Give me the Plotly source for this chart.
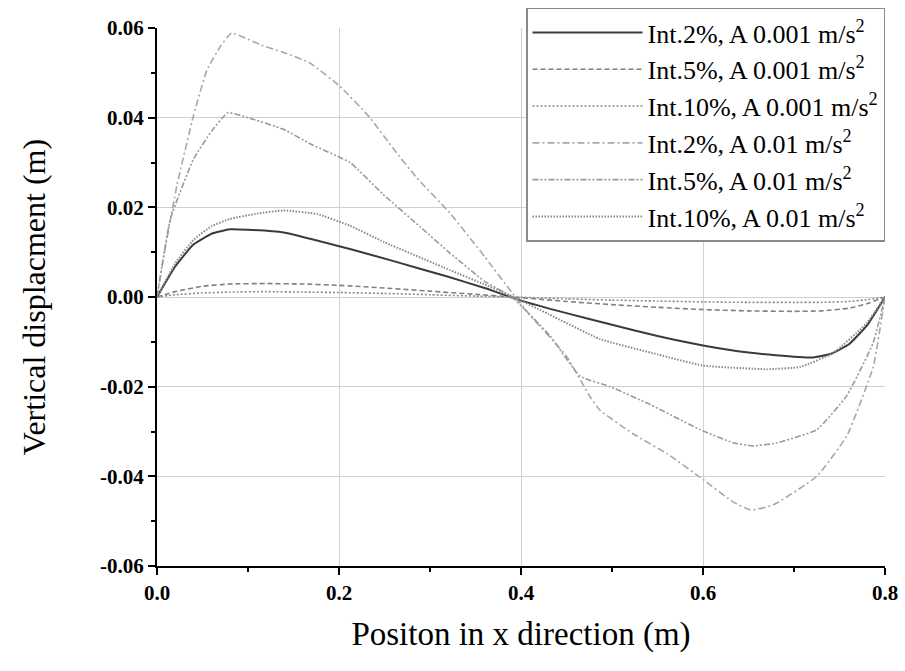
import plotly.graph_objects as go

names = [
    "Int.2%, A 0.001 m/s<sup>2</sup>",
    "Int.5%, A 0.001 m/s<sup>2</sup>",
    "Int.10%, A 0.001 m/s<sup>2</sup>",
    "Int.2%, A 0.01 m/s<sup>2</sup>",
    "Int.5%, A 0.01 m/s<sup>2</sup>",
    "Int.10%, A 0.01 m/s<sup>2</sup>",
]

x_a = [0, 0.02, 0.04, 0.06, 0.08, 0.1, 0.139, 0.212, 0.26, 0.32, 0.36, 0.4, 0.45, 0.5, 0.55, 0.6, 0.65, 0.68, 0.72, 0.74, 0.76, 0.78, 0.8]
y_a = [0, 0.0068, 0.0117, 0.0141, 0.0151, 0.0150, 0.0144, 0.0107, 0.0080, 0.0045, 0.0020, -0.0008, -0.0036, -0.0062, -0.0087, -0.0108, -0.0124, -0.0130, -0.0135, -0.0127, -0.0106, -0.0064, 0]

x_b = [0, 0.02, 0.05, 0.08, 0.12, 0.16, 0.2, 0.25, 0.3, 0.35, 0.39, 0.45, 0.5, 0.55, 0.6, 0.65, 0.7, 0.73, 0.76, 0.78, 0.8]
y_b = [0, 0.0012, 0.0024, 0.0029, 0.0030, 0.0029, 0.0026, 0.0020, 0.0013, 0.0006, 0, -0.0010, -0.0017, -0.0023, -0.0028, -0.0031, -0.0032, -0.0031, -0.0025, -0.0015, 0]

x_c = x_b
y_c = [0, 0.0005, 0.0009, 0.0011, 0.0012, 0.0011, 0.0010, 0.0008, 0.0005, 0.0002, 0, -0.0004, -0.0007, -0.0009, -0.0011, -0.0012, -0.0012, -0.0012, -0.0010, -0.0006, 0]

x_d = [0, 0.01, 0.022, 0.04, 0.055, 0.07, 0.082, 0.1, 0.113, 0.14, 0.168, 0.201, 0.234, 0.26, 0.285, 0.322, 0.36, 0.39, 0.41, 0.45, 0.476, 0.487, 0.523, 0.561, 0.6, 0.633, 0.652, 0.677, 0.725, 0.758, 0.787, 0.8]
y_d = [0, 0.012, 0.025, 0.0404, 0.0507, 0.056, 0.0589, 0.0575, 0.0563, 0.0545, 0.0522, 0.047, 0.040, 0.033, 0.0267, 0.0187, 0.009, 0.001, -0.0041, -0.0132, -0.0223, -0.0253, -0.0305, -0.035, -0.0407, -0.0457, -0.0475, -0.0464, -0.040, -0.031, -0.0156, 0]

x_e = [0, 0.0147, 0.04, 0.06, 0.078, 0.1, 0.139, 0.17, 0.212, 0.248, 0.29, 0.322, 0.36, 0.39, 0.432, 0.465, 0.498, 0.542, 0.597, 0.633, 0.655, 0.68, 0.725, 0.758, 0.787, 0.8]
y_e = [0, 0.0174, 0.0307, 0.037, 0.0411, 0.0400, 0.0374, 0.034, 0.030, 0.023, 0.0155, 0.0098, 0.0035, 0, -0.0087, -0.0177, -0.020, -0.024, -0.0296, -0.0325, -0.0332, -0.0326, -0.0296, -0.022, -0.0102, 0]

x_f = [0, 0.02, 0.04, 0.06, 0.08, 0.11, 0.139, 0.176, 0.212, 0.25, 0.322, 0.36, 0.39, 0.43, 0.487, 0.55, 0.6, 0.67, 0.707, 0.743, 0.78, 0.8]
y_f = [0, 0.0075, 0.0127, 0.0158, 0.0174, 0.0186, 0.0193, 0.0185, 0.0159, 0.0122, 0.0060, 0.0028, 0.0002, -0.0038, -0.0094, -0.0128, -0.0153, -0.0161, -0.0156, -0.0125, -0.0058, 0]

xs = [x_a, x_b, x_c, x_d, x_e, x_f]
ys = [y_a, y_b, y_c, y_d, y_e, y_f]
colors = ["#3a3a3a", "#808080", "#8a8a8a", "#a8a8a8", "#9a9a9a", "#8a8a8a"]
dashes = ["solid", "5px,3px", "2px,2px", "7px,3px,2px,3px", "6px,2px,2px,2px,2px,2px", "1.5px,1.5px"]
widths = [2, 1.6, 1.6, 1.6, 1.6, 2]

fig = go.Figure()
for x, y, n, c, d, w in zip(xs, ys, names, colors, dashes, widths):
    fig.add_trace(go.Scatter(x=x, y=y, name=n, mode="lines",
                             line=dict(color=c, dash=d, width=w, shape="spline", smoothing=0.4)))

serif = "Liberation Serif, Times New Roman, serif"
fig.update_layout(
    width=905, height=671,
    margin=dict(l=157, r=20, t=28, b=105, autoexpand=False),
    paper_bgcolor="white", plot_bgcolor="white",
    font=dict(family=serif, color="black"),
    showlegend=True,
    legend=dict(x=1, y=1.038, xanchor="right", yanchor="top",
                bordercolor="#8a8a8a", borderwidth=1.5, bgcolor="white",
                font=dict(family=serif, size=26, color="black"),
                itemwidth=110, tracegroupgap=0),
    xaxis=dict(range=[0, 0.8], tickvals=[0, 0.2, 0.4, 0.6, 0.8],
               ticktext=["0.0", "0.2", "0.4", "0.6", "0.8"],
               showgrid=True, gridcolor="#d0d0d0", gridwidth=1,
               showline=True, linecolor="black", linewidth=2,
               ticks="outside", ticklen=7, tickwidth=2, tickcolor="black",
               minor=dict(tickvals=[0.1, 0.3, 0.5, 0.7], ticks="outside", ticklen=4,
                          tickwidth=2, tickcolor="black", showgrid=False),
               tickfont=dict(family=serif, size=21, color="black", weight="bold"),
               title=dict(text="Positon in x direction (m)",
                          font=dict(family=serif, size=33, color="black"), standoff=18),
               zeroline=False),
    yaxis=dict(range=[-0.06, 0.06], tickvals=[-0.06, -0.04, -0.02, 0, 0.02, 0.04, 0.06],
               ticktext=["-0.06", "-0.04", "-0.02", "0.00", "0.02", "0.04", "0.06"],
               showgrid=True, gridcolor="#d0d0d0", gridwidth=1,
               showline=True, linecolor="black", linewidth=2,
               ticks="outside", ticklen=7, tickwidth=2, tickcolor="black",
               minor=dict(tickvals=[-0.05, -0.03, -0.01, 0.01, 0.03, 0.05], ticks="outside", ticklen=4,
                          tickwidth=2, tickcolor="black", showgrid=False),
               tickfont=dict(family=serif, size=21, color="black", weight="bold"),
               title=dict(text="Vertical displacment (m)",
                          font=dict(family=serif, size=32, color="black"), standoff=45),
               zeroline=False),
)

fig.write_html("out.html")
